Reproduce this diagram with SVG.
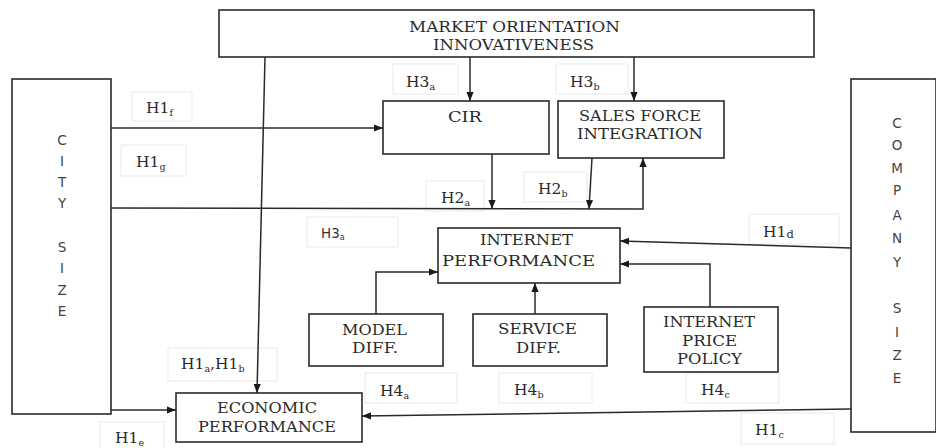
<svg xmlns="http://www.w3.org/2000/svg" width="936" height="448" viewBox="0 0 936 448">
<style>
.box{fill:#fff;stroke:#2a2a2a;stroke-width:1.6}
.lbl{fill:#fff;stroke:#e9e9e9;stroke-width:1}
.t{font-family:"DejaVu Serif","Liberation Serif",serif;font-size:15.5px;fill:#2a2a2a}
.h{font-family:"DejaVu Serif","Liberation Serif",serif;font-size:15.5px;fill:#2a2a2a}
.s{font-size:9.5px}
.v{font-family:"DejaVu Sans","Liberation Sans",sans-serif;font-size:13.5px;fill:#444;text-anchor:middle}
.ln{fill:none;stroke:#2a2a2a;stroke-width:1.5}
</style>
<defs>
<marker id="ah" viewBox="0 0 10 8" refX="10" refY="4" markerWidth="9" markerHeight="8" markerUnits="userSpaceOnUse" orient="auto">
<path d="M0,0 L10,4 L0,8 z" fill="#1a1a1a"/>
</marker>
</defs>
<rect width="936" height="448" fill="#fff"/>

<g id="labels">
<rect class="lbl" x="393" y="64" width="65" height="30"/>
<text class="h" x="406" y="87">H3<tspan class="s" dy="3">a</tspan></text>
<rect class="lbl" x="556" y="64" width="72" height="30"/>
<text class="h" x="570" y="87">H3<tspan class="s" dy="3">b</tspan></text>
<rect class="lbl" x="132" y="92" width="60" height="29"/>
<text class="h" x="146" y="113">H1<tspan class="s" dy="3">f</tspan></text>
<rect class="lbl" x="121" y="145" width="65" height="31"/>
<text class="h" x="136" y="167">H1<tspan class="s" dy="3">g</tspan></text>
<rect class="lbl" x="426" y="181" width="58" height="30"/>
<text class="h" x="441" y="203">H2<tspan class="s" dy="3">a</tspan></text>
<rect class="lbl" x="524" y="172" width="63" height="30"/>
<text class="h" x="538" y="194">H2<tspan class="s" dy="3">b</tspan></text>
<rect class="lbl" x="307" y="217" width="91" height="30"/>
<text x="321" y="238" font-family="DejaVu Sans, Liberation Sans, sans-serif" font-size="13.5" fill="#333">H3<tspan font-size="8" dy="2">a</tspan></text>
<rect class="lbl" x="749" y="214" width="90" height="30"/>
<text class="h" x="763" y="237">H1<tspan font-size="11.5" dy="1">d</tspan></text>
<rect class="lbl" x="168" y="348" width="109" height="33"/>
<text class="h" x="181" y="369">H1<tspan class="s" dy="3">a</tspan><tspan dy="-3">,H1</tspan><tspan class="s" dy="3">b</tspan></text>
<rect class="lbl" x="365" y="373" width="92" height="30"/>
<text class="h" x="380" y="396">H4<tspan class="s" dy="3">a</tspan></text>
<rect class="lbl" x="499" y="373" width="93" height="30"/>
<text class="h" x="514" y="395">H4<tspan class="s" dy="3">b</tspan></text>
<rect class="lbl" x="686" y="373" width="93" height="30"/>
<text class="h" x="701" y="395">H4<tspan class="s" dy="3">c</tspan></text>
<rect class="lbl" x="741" y="413" width="93" height="31"/>
<text class="h" x="755" y="435">H1<tspan class="s" dy="3">c</tspan></text>
<rect class="lbl" x="100" y="422" width="64" height="30"/>
<text class="h" x="115" y="443">H1<tspan class="s" dy="3">e</tspan></text>
</g>

<g id="connectors">
<line class="ln" x1="470" y1="57" x2="470" y2="101" marker-end="url(#ah)"/>
<line class="ln" x1="634" y1="57" x2="634" y2="101" marker-end="url(#ah)"/>
<line class="ln" x1="265" y1="57" x2="257" y2="393" marker-end="url(#ah)"/>
<line class="ln" x1="111" y1="128" x2="383" y2="128" marker-end="url(#ah)"/>
<polyline class="ln" points="111,208 643,209 643,158" marker-end="url(#ah)"/>
<line class="ln" x1="492" y1="154" x2="492" y2="209" marker-end="url(#ah)"/>
<line class="ln" x1="592" y1="158" x2="589" y2="209" marker-end="url(#ah)"/>
<line class="ln" x1="851" y1="248" x2="620" y2="241" marker-end="url(#ah)"/>
<polyline class="ln" points="710,307 710,264 620,264" marker-end="url(#ah)"/>
<line class="ln" x1="535" y1="314" x2="535" y2="283" marker-end="url(#ah)"/>
<polyline class="ln" points="376,314 376,272 438,272" marker-end="url(#ah)"/>
<line class="ln" x1="111" y1="410" x2="176" y2="410" marker-end="url(#ah)"/>
<line class="ln" x1="851" y1="409" x2="362" y2="416" marker-end="url(#ah)"/>
</g>

<g id="market">
<rect class="box" x="219" y="10" width="595" height="47"/>
<text class="t" x="409" y="32" textLength="211" lengthAdjust="spacingAndGlyphs">MARKET ORIENTATION</text>
<text class="t" x="433" y="50" textLength="161" lengthAdjust="spacingAndGlyphs">INNOVATIVENESS</text>
</g>

<g id="city">
<rect class="box" x="12" y="79" width="99" height="335"/>
<text class="v" x="62" y="145">C</text>
<text class="v" x="62" y="166">I</text>
<text class="v" x="62" y="187">T</text>
<text class="v" x="62" y="208">Y</text>
<text class="v" x="62" y="252">S</text>
<text class="v" x="62" y="273">I</text>
<text class="v" x="62" y="295">Z</text>
<text class="v" x="62" y="316">E</text>
</g>

<g id="company">
<rect class="box" x="851" y="79" width="85" height="353"/>
<text class="v" x="897" y="128">C</text>
<text class="v" x="897" y="150">O</text>
<text class="v" x="897" y="173">M</text>
<text class="v" x="897" y="195">P</text>
<text class="v" x="897" y="220">A</text>
<text class="v" x="897" y="243">N</text>
<text class="v" x="897" y="267">Y</text>
<text class="v" x="897" y="313">S</text>
<text class="v" x="897" y="337">I</text>
<text class="v" x="897" y="360">Z</text>
<text class="v" x="897" y="383">E</text>
</g>

<g id="cir">
<rect class="box" x="383" y="101" width="166" height="53"/>
<text class="t" x="448" y="122" textLength="34" lengthAdjust="spacingAndGlyphs">CIR</text>
</g>

<g id="salesforce">
<rect class="box" x="558" y="101" width="166" height="57"/>
<text class="t" x="579" y="121" textLength="122" lengthAdjust="spacingAndGlyphs">SALES FORCE</text>
<text class="t" x="577" y="139" textLength="126" lengthAdjust="spacingAndGlyphs">INTEGRATION</text>
</g>

<g id="internetperf">
<rect class="box" x="438" y="228" width="182" height="55"/>
<text class="t" x="480" y="245" textLength="93" lengthAdjust="spacingAndGlyphs">INTERNET</text>
<text class="t" x="442" y="266" textLength="153" lengthAdjust="spacingAndGlyphs">PERFORMANCE</text>
</g>

<g id="modeldiff">
<rect class="box" x="309" y="314" width="134" height="52"/>
<text class="t" x="342" y="335" textLength="65" lengthAdjust="spacingAndGlyphs">MODEL</text>
<text class="t" x="352" y="353" textLength="46" lengthAdjust="spacingAndGlyphs">DIFF.</text>
</g>

<g id="servicediff">
<rect class="box" x="473" y="314" width="134" height="52"/>
<text class="t" x="498" y="334" textLength="79" lengthAdjust="spacingAndGlyphs">SERVICE</text>
<text class="t" x="516" y="353" textLength="45" lengthAdjust="spacingAndGlyphs">DIFF.</text>
</g>

<g id="pricepolicy">
<rect class="box" x="644" y="307" width="134" height="65"/>
<text class="t" x="663" y="327" textLength="92" lengthAdjust="spacingAndGlyphs">INTERNET</text>
<text class="t" x="682" y="346" textLength="55" lengthAdjust="spacingAndGlyphs">PRICE</text>
<text class="t" x="677" y="364" textLength="65" lengthAdjust="spacingAndGlyphs">POLICY</text>
</g>

<g id="economic">
<rect class="box" x="176" y="393" width="186" height="49"/>
<text class="t" x="217" y="413" textLength="100" lengthAdjust="spacingAndGlyphs">ECONOMIC</text>
<text class="t" x="198" y="432" textLength="138" lengthAdjust="spacingAndGlyphs">PERFORMANCE</text>
</g>
</svg>
